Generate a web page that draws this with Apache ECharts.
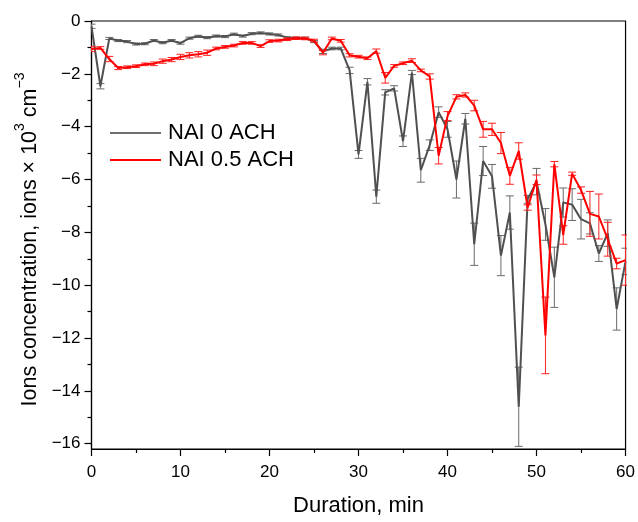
<!DOCTYPE html>
<html>
<head>
<meta charset="utf-8">
<script src="https://cdn.jsdelivr.net/npm/echarts@6/dist/echarts.min.js"></script>
<style>html,body{margin:0;padding:0;background:#fff}#c{width:638px;height:522px}</style>
</head>
<body>
<div id="c"></div>
<script>
// Duration, min
var minutes = [0,1,2,3,4,5,6,7,8,9,10,11,12,13,14,15,16,17,18,19,20,21,22,23,24,25,26,27,28,29,30,31,32,33,34,35,36,37,38,39,40,41,42,43,44,45,46,47,48,49,50,51,52,53,54,55,56,57,58,59,60];
// NAI 0 ACH
var nai0 = [-0.2,-2.47,-0.66,-0.74,-0.78,-0.87,-0.86,-0.74,-0.82,-0.74,-0.84,-0.65,-0.58,-0.63,-0.57,-0.59,-0.5,-0.57,-0.48,-0.45,-0.49,-0.53,-0.63,-0.65,-0.65,-0.78,-1.15,-1.04,-1.04,-1.87,-5.05,-2.3,-6.65,-2.7,-2.55,-4.55,-1.95,-5.65,-4.7,-3.45,-4.1,-6.0,-3.7,-8.45,-5.3,-5.88,-8.88,-7.25,-14.6,-6.75,-6.08,-7.7,-9.7,-6.87,-6.95,-7.5,-7.66,-8.8,-8.03,-10.9,-9.1];
var nai0Err = [0.08,0.1,0.04,0.04,0.04,0.04,0.04,0.04,0.04,0.04,0.04,0.04,0.04,0.04,0.04,0.04,0.04,0.04,0.04,0.04,0.04,0.04,0.04,0.04,0.04,0.04,0.08,0.05,0.05,0.12,0.15,0.12,0.25,0.1,0.1,0.2,0.08,0.45,0.2,0.2,0.3,0.7,0.2,0.8,0.55,0.45,0.76,0.63,1.5,0.15,0.5,0.6,1.14,0.55,0.6,0.75,0.4,0.3,0.5,0.8,0.5];
// NAI 0.5 ACH
var nai05 = [-1.06,-1.02,-1.44,-1.78,-1.75,-1.71,-1.64,-1.62,-1.52,-1.46,-1.36,-1.3,-1.26,-1.2,-1.04,-0.98,-0.93,-0.83,-0.83,-0.95,-0.76,-0.74,-0.69,-0.65,-0.66,-0.74,-1.2,-0.66,-0.75,-1.3,-1.35,-1.41,-1.14,-2.15,-1.7,-1.6,-1.5,-1.87,-2.1,-5.1,-3.6,-2.87,-2.8,-3.2,-4.1,-4.1,-4.62,-5.86,-4.92,-7.06,-6.01,-11.9,-5.42,-8.1,-5.78,-6.4,-7.3,-7.4,-8.26,-9.18,-9.05];
var nai05Err = [0.1,0.05,0.1,0.06,0.05,0.05,0.05,0.07,0.08,0.08,0.1,0.1,0.1,0.1,0.05,0.05,0.05,0.05,0.05,0.05,0.05,0.05,0.05,0.05,0.05,0.05,0.08,0.05,0.05,0.06,0.05,0.05,0.08,0.2,0.05,0.05,0.07,0.05,0.1,0.31,0.17,0.08,0.08,0.2,0.3,0.23,0.4,0.32,0.31,0.1,0.18,1.45,0.1,0.35,0.06,0.12,0.85,0.85,0.64,0.2,0.95];
// axis ticks
var yMajor = [-16,-14,-12,-10,-8,-6,-4,-2,0];
var yMinor = [-15,-13,-11,-9,-7,-5,-3,-1];

var GRAY = '#505050', RED = '#ff0000';
var FONT = 'Liberation Sans, Arial, sans-serif';

function pairs(v){ return minutes.map(function(t,i){ return [t, v[i]]; }); }
function triples(v,e){ return minutes.map(function(t,i){ return [t, v[i], e[i]]; }); }
function errRender(color){
  return function(params, api){
    var x = api.value(0), y = api.value(1), e = api.value(2);
    var hi = api.coord([x, y + e]), lo = api.coord([x, y - e]);
    var w = 4;
    var st = {stroke: color, lineWidth: 1};
    return {type:'group', children:[
      {type:'line', shape:{x1:hi[0], y1:hi[1], x2:lo[0], y2:lo[1]}, style:st},
      {type:'line', shape:{x1:hi[0]-w, y1:hi[1], x2:hi[0]+w, y2:hi[1]}, style:st},
      {type:'line', shape:{x1:lo[0]-w, y1:lo[1], x2:lo[0]+w, y2:lo[1]}, style:st}
    ]};
  };
}
function fmtMinus(v){ return String(v).replace('-', '\u2212'); }

var chart = echarts.init(document.getElementById('c'), null, {renderer:'canvas'});
chart.setOption({
  animation:false,
  backgroundColor:'#fff',
  grid:{left:91.5, right:9.5, top:21, bottom:66.5, show:true, borderColor:'#000', borderWidth:1.2, backgroundColor:'transparent'},
  legend:{
    orient:'vertical', left:105, top:117, itemWidth:51, itemHeight:2, itemGap:5,
    textStyle:{fontFamily:FONT, fontSize:22, color:'#000', padding:[0,0,0,2]},
    data:[{name:'NAI 0 ACH', icon:'rect', itemStyle:{color:'#707070'}},{name:'NAI 0.5 ACH', icon:'rect', itemStyle:{color:RED}}]
  },
  xAxis:[{
    type:'value', min:0, max:60, interval:10,
    name:'Duration, min', nameLocation:'middle', nameGap:46,
    nameTextStyle:{fontFamily:FONT, fontSize:22, color:'#000'},
    axisLine:{show:true, onZero:false, lineStyle:{color:'#000', width:1.2}},
    axisTick:{show:true, inside:false, length:7, lineStyle:{color:'#000', width:1.2}},
    minorTick:{show:true, splitNumber:2, length:4, lineStyle:{color:'#000', width:1.2}},
    axisLabel:{fontFamily:FONT, fontSize:17, color:'#000', margin:15},
    splitLine:{show:false}
  }],
  yAxis:[{
    type:'value', min:-16.2, max:0,
    name:'{a|Ions concentration, ions \u00d7 10}{s|3}{a| cm}{e|\u22123}',
    nameLocation:'middle', nameGap:50, nameRotate:90,
    nameTextStyle:{fontFamily:FONT, color:'#000', rich:{
      a:{fontFamily:FONT, fontSize:21.5, color:'#000', lineHeight:28, verticalAlign:'bottom'},
      s:{fontFamily:FONT, fontSize:14, color:'#000', lineHeight:28, verticalAlign:'top'},
      e:{fontFamily:FONT, fontSize:14, color:'#000', lineHeight:28, verticalAlign:'top', padding:[0,9,0,0]}
    }},
    axisLine:{show:true, onZero:false, lineStyle:{color:'#000', width:1.2}},
    axisTick:{show:true, inside:false, length:7, customValues:yMajor, lineStyle:{color:'#000', width:1.2}},
    axisLabel:{fontFamily:FONT, fontSize:17, color:'#000', margin:11, customValues:yMajor, formatter:fmtMinus},
    splitLine:{show:false}
  },{
    type:'value', min:-16.2, max:0, position:'left',
    axisLine:{show:false},
    axisTick:{show:true, inside:false, length:4, customValues:yMinor, lineStyle:{color:'#000', width:1.2}},
    axisLabel:{show:false, customValues:yMinor},
    splitLine:{show:false}
  }],
  series:[
    {type:'custom', name:'err0', renderItem:errRender('#6a6a6a'), data:triples(nai0, nai0Err), encode:{x:0,y:[1,2]}, clip:true, z:2, silent:true},
    {type:'line', name:'NAI 0 ACH', data:pairs(nai0), symbol:'none', color:GRAY, lineStyle:{color:GRAY, width:2}, clip:true, z:3},
    {type:'custom', name:'err05', renderItem:errRender('#ff2020'), data:triples(nai05, nai05Err), encode:{x:0,y:[1,2]}, clip:true, z:4, silent:true},
    {type:'line', name:'NAI 0.5 ACH', data:pairs(nai05), symbol:'none', color:RED, lineStyle:{color:RED, width:2}, clip:true, z:5}
  ]
});
</script>
</body>
</html>
